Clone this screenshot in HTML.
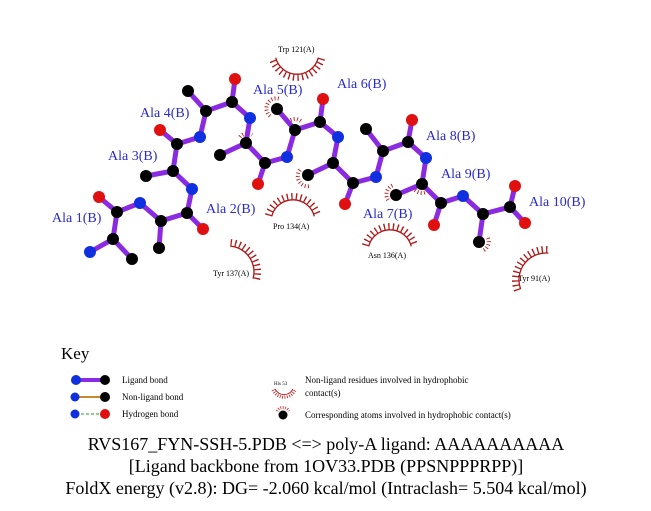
<!DOCTYPE html>
<html><head><style>
body{margin:0;background:#fff}
svg{display:block}
.b{stroke:#8a2be2;stroke-width:5;stroke-linecap:round;fill:none}
.arc{stroke:#b01515;stroke-width:1.3;fill:none}
.sp{stroke:#b01515;stroke-width:7;fill:none;stroke-dasharray:1.3 3.2}
.ssp{stroke:#c03030;stroke-width:4;fill:none;stroke-dasharray:1 2.2}
.lab{font-family:"Liberation Serif",serif;font-size:14px;fill:#2a2ad0}
.res{font-family:"Liberation Serif",serif;font-size:8px;fill:#000}
.k{font-family:"Liberation Serif",serif;font-size:9px;fill:#000}
.t{font-family:"Liberation Serif",serif;font-size:18px;fill:#000}
</style></head><body>
<svg width="651" height="511" viewBox="0 0 651 511">
<!-- hydrophobic residues -->
<path class="arc" d="M318.3 57.7 A22 22 0 0 1 275.7 57.7"/>
<path class="sp" d="M321.6 58.6 A25.5 25.5 0 0 1 272.4 58.6"/>
<text class="res" x="278" y="52">Trp 121(A)</text>
<path class="arc" d="M271.7 216.3 A22 22 0 0 1 314.3 216.3"/>
<path class="sp" d="M268.4 215.4 A25.5 25.5 0 0 1 317.6 215.4"/>
<text class="res" x="273" y="229">Pro 134(A)</text>
<path class="arc" d="M230.3 246.1 A26 26 0 0 1 253.1 278.7"/>
<path class="sp" d="M230.6 242.6 A29.5 29.5 0 0 1 256.5 279.6"/>
<text class="res" x="213" y="276">Tyr 137(A)</text>
<path class="arc" d="M368.7 246.3 A22 22 0 0 1 411.3 246.3"/>
<path class="sp" d="M365.4 245.4 A25.5 25.5 0 0 1 414.6 245.4"/>
<text class="res" x="368" y="258">Asn 136(A)</text>
<path class="arc" d="M520.6 289.2 A27 27 0 0 1 548.4 253.1"/>
<path class="sp" d="M517.3 290.4 A30.5 30.5 0 0 1 548.7 249.6"/>
<text class="res" x="518" y="281">Tyr 91(A)</text>
<!-- small atom contact marks -->
<path class="ssp" d="M270 116 A10 10 0 0 1 280 99"/>
<path class="ssp" d="M288 122 A10 10 0 0 1 302 122"/>
<path class="ssp" d="M300 170 A10 10 0 0 0 310 186"/>
<path class="ssp" d="M388 200 A10 10 0 0 1 394 185"/>
<path class="ssp" d="M415 190 A10 10 0 0 0 429 190"/>
<path class="ssp" d="M488 238 A10 10 0 0 1 482 251"/>
<path class="ssp" d="M240 137 A9 9 0 0 1 252 135"/>
<!-- bonds -->
<polyline class="b" points="90,252 113,239 117,212 140,203 161,221 187,213 192,189 173,171 177,144 200,137 206,111 232,102 250,118 246,143 265,163 287,157 295,130 320,122 338,137 333,163 353,183 376,177 383,151 408,142 426,158 422,184 441,203 463,196 483,214 510,207"/>
<g class="b">
<line x1="113" y1="239" x2="132" y2="259"/><line x1="117" y1="212" x2="99" y2="197"/>
<line x1="161" y1="221" x2="159" y2="248"/><line x1="187" y1="213" x2="203" y2="229"/>
<line x1="173" y1="171" x2="146" y2="176"/><line x1="177" y1="144" x2="160" y2="130"/>
<line x1="206" y1="111" x2="188" y2="91"/><line x1="232" y1="102" x2="235" y2="79"/>
<line x1="246" y1="143" x2="220" y2="155"/><line x1="265" y1="163" x2="258" y2="184"/>
<line x1="295" y1="130" x2="277" y2="109"/><line x1="320" y1="122" x2="323" y2="99"/>
<line x1="333" y1="163" x2="308" y2="175"/><line x1="353" y1="183" x2="345" y2="204"/>
<line x1="383" y1="151" x2="366" y2="129"/><line x1="408" y1="142" x2="412" y2="120"/>
<line x1="422" y1="184" x2="396" y2="195"/><line x1="441" y1="203" x2="434" y2="225"/>
<line x1="483" y1="214" x2="479" y2="242"/><line x1="510" y1="207" x2="515" y2="186"/>
<line x1="510" y1="207" x2="525" y2="223"/>
</g>
<!-- atoms -->
<g fill="#000">
<circle cx="113" cy="239" r="6"/><circle cx="132" cy="259" r="6"/><circle cx="117" cy="212" r="6"/>
<circle cx="161" cy="221" r="6"/><circle cx="159" cy="248" r="6"/><circle cx="187" cy="213" r="6"/>
<circle cx="173" cy="171" r="6"/><circle cx="146" cy="176" r="6"/><circle cx="177" cy="144" r="6"/>
<circle cx="206" cy="111" r="6"/><circle cx="188" cy="91" r="6"/><circle cx="232" cy="102" r="6"/>
<circle cx="246" cy="143" r="6"/><circle cx="220" cy="155" r="6"/><circle cx="265" cy="163" r="6"/>
<circle cx="295" cy="130" r="6"/><circle cx="277" cy="109" r="6"/><circle cx="320" cy="122" r="6"/>
<circle cx="333" cy="163" r="6"/><circle cx="308" cy="175" r="6"/><circle cx="353" cy="183" r="6"/>
<circle cx="383" cy="151" r="6"/><circle cx="366" cy="129" r="6"/><circle cx="408" cy="142" r="6"/>
<circle cx="422" cy="184" r="6"/><circle cx="396" cy="195" r="6"/><circle cx="441" cy="203" r="6"/>
<circle cx="483" cy="214" r="6"/><circle cx="479" cy="242" r="6"/><circle cx="510" cy="207" r="6"/>
</g>
<g fill="#1030e0">
<circle cx="90" cy="252" r="6"/><circle cx="140" cy="203" r="6"/><circle cx="192" cy="189" r="6"/>
<circle cx="200" cy="137" r="6"/><circle cx="250" cy="118" r="6"/><circle cx="287" cy="157" r="6"/>
<circle cx="338" cy="137" r="6"/><circle cx="376" cy="177" r="6"/><circle cx="426" cy="158" r="6"/>
<circle cx="463" cy="196" r="6"/>
</g>
<g fill="#e01010">
<circle cx="99" cy="197" r="6"/><circle cx="203" cy="229" r="6"/><circle cx="160" cy="130" r="6"/>
<circle cx="235" cy="79" r="6"/><circle cx="258" cy="184" r="6"/><circle cx="323" cy="99" r="6"/>
<circle cx="345" cy="204" r="6"/><circle cx="412" cy="120" r="6"/><circle cx="434" cy="225" r="6"/>
<circle cx="515" cy="186" r="6"/><circle cx="525" cy="223" r="6"/>
</g>
<!-- labels -->
<text class="lab" x="52" y="222">Ala 1(B)</text>
<text class="lab" x="206" y="213">Ala 2(B)</text>
<text class="lab" x="108" y="160">Ala 3(B)</text>
<text class="lab" x="140" y="117">Ala 4(B)</text>
<text class="lab" x="253" y="94">Ala 5(B)</text>
<text class="lab" x="337" y="88">Ala 6(B)</text>
<text class="lab" x="363" y="218">Ala 7(B)</text>
<text class="lab" x="426" y="140">Ala 8(B)</text>
<text class="lab" x="441" y="178">Ala 9(B)</text>
<text class="lab" x="529" y="206">Ala 10(B)</text>
<!-- key -->
<text x="61" y="359" style="font-family:'Liberation Serif',serif;font-size:17px">Key</text>
<line x1="76" y1="380" x2="105" y2="380" stroke="#8a2be2" stroke-width="4"/>
<circle cx="76" cy="380" r="5" fill="#1030e0"/><circle cx="105" cy="380" r="5" fill="#000"/>
<text class="k" x="122" y="383">Ligand bond</text>
<line x1="76" y1="397" x2="105" y2="397" stroke="#c88a2a" stroke-width="2"/>
<circle cx="75" cy="397" r="4.5" fill="#1030e0"/><circle cx="105" cy="397" r="5" fill="#000"/>
<text class="k" x="122" y="400">Non-ligand bond</text>
<line x1="76" y1="414" x2="105" y2="414" stroke="#2a9a2a" stroke-width="1" stroke-dasharray="3 2"/>
<circle cx="75" cy="414" r="4.5" fill="#1030e0"/><circle cx="105" cy="414" r="5" fill="#e01010"/>
<text class="k" x="122" y="417">Hydrogen bond</text>
<text x="274" y="385" style="font-family:'Liberation Serif',serif;font-size:5px">His 53</text>
<path d="M275 389 A10 10 0 0 0 293 389" stroke="#c01515" stroke-width="1" fill="none"/>
<path d="M273 390 A12 12 0 0 0 295 390" stroke="#c01515" stroke-width="3" fill="none" stroke-dasharray="0.8 1.6"/>
<text class="k" x="305" y="383">Non-ligand residues involved in hydrophobic</text>
<text class="k" x="305" y="396">contact(s)</text>
<path d="M277 411 A7 7 0 0 1 289 411" stroke="#c03030" stroke-width="3" fill="none" stroke-dasharray="0.8 1.5"/>
<circle cx="283" cy="415" r="4.5" fill="#000"/>
<text class="k" x="305" y="418">Corresponding atoms involved in hydrophobic contact(s)</text>
<!-- titles -->
<text class="t" x="326" y="450" text-anchor="middle">RVS167_FYN-SSH-5.PDB &lt;=&gt; poly-A ligand: AAAAAAAAAA</text>
<text class="t" x="326" y="472" text-anchor="middle">[Ligand backbone from 1OV33.PDB (PPSNPPPRPP)]</text>
<text class="t" x="326" y="494" text-anchor="middle">FoldX energy (v2.8): DG= -2.060 kcal/mol (Intraclash= 5.504 kcal/mol)</text>
</svg>
</body></html>
